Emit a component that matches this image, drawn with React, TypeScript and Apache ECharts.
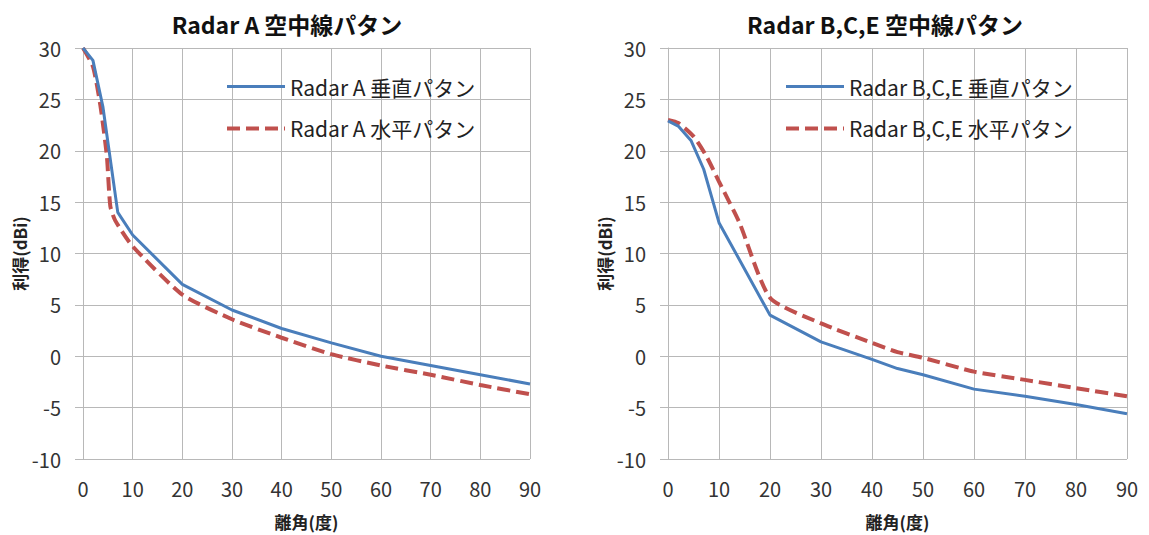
import React, { useEffect, useRef } from "react";
import * as echarts from "echarts";

const titles = ["Radar A 空中線パタン", "Radar B,C,E 空中線パタン"];
const seriesNames = [
  "Radar A 垂直パタン",
  "Radar A 水平パタン",
  "Radar B,C,E 垂直パタン",
  "Radar B,C,E 水平パタン",
];
const xAxisName = "離角(度)";
const yAxisName = "利得(dBi)";

// [angle (deg), gain (dBi)]
const radarAVertical: [number, number][] = [
  [0, 30], [2, 28.8], [4, 24.3], [7, 14], [10, 11.8], [20, 7], [30, 4.5],
  [40, 2.7], [50, 1.3], [60, 0], [70, -0.9], [80, -1.8], [90, -2.7],
];
const radarAHorizontal: [number, number][] = [
  [0, 30], [2, 28.2], [3.5, 24.4], [4.8, 19.5], [5.5, 14.6], [6.5, 13.2],
  [10, 10.7], [20, 6], [30, 3.6], [40, 1.8], [50, 0.2], [60, -0.9],
  [70, -1.8], [80, -2.8], [90, -3.7],
];
const radarBVertical: [number, number][] = [
  [0, 22.9], [2, 22.4], [4.5, 21], [7, 18.2], [10, 13], [20, 4], [30, 1.4],
  [40, -0.3], [45, -1.2], [50, -1.8], [60, -3.2], [70, -3.9], [80, -4.7], [90, -5.6],
];
const radarBHorizontal: [number, number][] = [
  [0, 23], [2, 22.7], [5, 21.4], [7.5, 19.5], [10, 17], [14, 13], [20, 5.7],
  [30, 3.2], [40, 1.3], [45, 0.4], [50, -0.15], [60, -1.5], [70, -2.3],
  [80, -3.1], [90, -3.9],
];

const FONT = "'Noto Sans CJK JP', 'Noto Sans', sans-serif";
const BLUE = "#4a7ebb";
const RED = "#c0504d";
const GRID = "#b8b8b8";

export default function App() {
  const ref = useRef<HTMLDivElement>(null);
  useEffect(() => {
    if (!ref.current) return;
    const chart = echarts.init(ref.current, null, { renderer: "svg" });
    const grids = [
      { left: 83, top: 48, width: 447, height: 412 },
      { left: 668, top: 48, width: 459, height: 412 },
    ];
    const xAxes = grids.map((_, i) => ({
      type: "value",
      gridIndex: i,
      min: 0,
      max: 90,
      interval: 10,
      name: xAxisName,
      nameLocation: "middle",
      nameGap: 54,
      nameTextStyle: { fontFamily: FONT, fontSize: 17, fontWeight: "bold", color: "#222" },
      axisLine: { show: true, lineStyle: { color: GRID, width: 1 } },
      axisTick: { show: true, length: 7, lineStyle: { color: GRID } },
      axisLabel: { fontFamily: FONT, fontSize: 20, color: "#333", margin: 19 },
      splitLine: { show: true, lineStyle: { color: GRID, width: 1 } },
    }));
    const yAxes = grids.map((_, i) => ({
      type: "value",
      gridIndex: i,
      min: -10,
      max: 30,
      interval: 5,
      name: yAxisName,
      nameLocation: "middle",
      nameGap: 52,
      nameRotate: 90,
      nameTextStyle: { fontFamily: FONT, fontSize: 17, fontWeight: "bold", color: "#222" },
      axisLine: { show: true, lineStyle: { color: GRID, width: 1 } },
      axisTick: { show: true, length: 8, lineStyle: { color: GRID } },
      axisLabel: { fontFamily: FONT, fontSize: 20, color: "#333", margin: 22 },
      splitLine: { show: true, lineStyle: { color: GRID, width: 1 } },
    }));
    const datasets = [radarAVertical, radarAHorizontal, radarBVertical, radarBHorizontal];
    const series = datasets.map((d, i) => ({
      type: "line",
      name: seriesNames[i],
      xAxisIndex: i < 2 ? 0 : 1,
      yAxisIndex: i < 2 ? 0 : 1,
      data: d,
      symbol: "none",
      smooth: i % 2 === 1 ? 0.2 : false,
      lineStyle:
        i % 2 === 0
          ? { color: BLUE, width: 3 }
          : { color: RED, width: 4, type: [13, 6] },
      itemStyle: { color: i % 2 === 0 ? BLUE : RED },
      z: i % 2 === 0 ? 3 : 2,
    }));
    const legendItem = (i: number) => ({
      name: seriesNames[i],
      lineStyle: i % 2 === 0 ? { width: 3 } : { width: 4 },
    });
    const legendCommon = {
      orient: "vertical",
      top: 71,
      itemWidth: 58,
      itemHeight: 14,
      itemGap: 21,
      itemStyle: { opacity: 0 },
      textStyle: { fontFamily: FONT, fontSize: 21, color: "#222" },
    };
    chart.setOption({
      animation: false,
      backgroundColor: "#ffffff",
      title: [
        {
          text: titles[0],
          left: 282,
          top: 7,
          textAlign: "center",
          textStyle: { fontFamily: FONT, fontSize: 23, fontWeight: "bold", color: "#111" },
        },
        {
          text: titles[1],
          left: 880,
          top: 7,
          textAlign: "center",
          textStyle: { fontFamily: FONT, fontSize: 23, fontWeight: "bold", color: "#111" },
        },
      ],
      legend: [
        { ...legendCommon, data: [legendItem(0), legendItem(1)], left: 220 },
        { ...legendCommon, data: [legendItem(2), legendItem(3)], left: 779 },
      ],
      grid: grids,
      xAxis: xAxes,
      yAxis: yAxes,
      series,
    });
    return () => chart.dispose();
  }, []);
  return (
    <div
      ref={ref}
      style={{ position: "fixed", left: 0, top: 0, width: 1149, height: 535, background: "#fff" }}
    />
  );
}
